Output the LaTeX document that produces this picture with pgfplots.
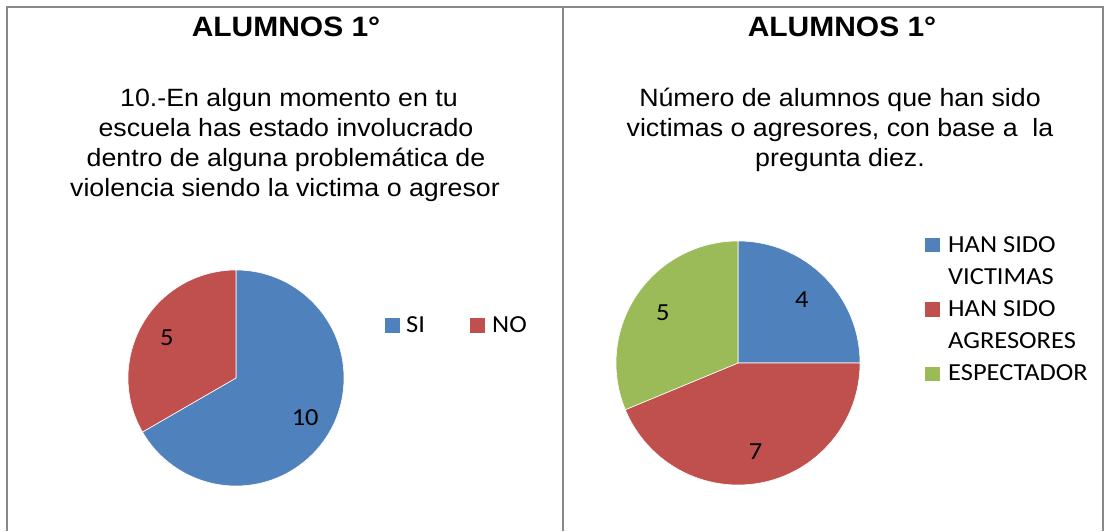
\documentclass[border=0pt]{standalone}
\usepackage{fontspec}
\setmainfont{Liberation Sans}
\newfontfamily\calibri{Carlito}
\usepackage{pgfplots}
\usepackage{pgfplotstable}
\pgfplotsset{compat=1.18}

\definecolor{pieblue}{HTML}{4F81BD}
\definecolor{piered}{HTML}{C0504D}
\definecolor{piegreen}{HTML}{9BBB59}
\definecolor{frame}{HTML}{888888}

% pregunta 10: SI / NO
\pgfplotstableread{
name value color
SI 10 pieblue
NO 5 piered
}\tabA
% victimas / agresores / espectador
\pgfplotstableread{
name value color
VICTIMAS 4 pieblue
AGRESORES 7 piered
ESPECTADOR 5 piegreen
}\tabB

\newcommand\lblfont{\calibri\fontsize{24.5}{28}\selectfont}
\newcommand\bodyfont{\fontsize{25}{30}\selectfont}
\newcommand\titlefont{\bfseries\fontsize{28}{33}\selectfont}
\tikzset{lbl/.style={font=\lblfont, inner sep=0, xscale=1.08},
         body/.style={font=\bodyfont, inner sep=0, anchor=base, xscale=1.07},
         ttl/.style={font=\titlefont, inner sep=0, anchor=base, xscale=1.07}}

% #1 table, #2 cx, #3 cy (pixels from top), #4 radius (pt)
\newcommand\pie[4]{%
  \pgfplotstablegetrowsof{#1}\pgfmathtruncatemacro\lastrow{\pgfplotsretval-1}%
  \def\total{0}%
  \pgfplotsforeachungrouped \i in {0,...,\lastrow}{%
    \pgfplotstablegetelem{\i}{value}\of{#1}%
    \pgfmathsetmacro\total{\total+\pgfplotsretval}}%
  \def\angA{90}%
  \pgfmathsetmacro\cy{531-#3}%
  \pgfmathsetmacro\dist{0.74*#4}%
  \pgfplotsforeachungrouped \i in {0,...,\lastrow}{%
    \pgfplotstablegetelem{\i}{value}\of{#1}\let\val\pgfplotsretval
    \pgfplotstablegetelem{\i}{color}\of{#1}\let\col\pgfplotsretval
    \pgfmathsetmacro\angB{\angA-360*\val/\total}%
    \pgfmathsetmacro\angM{(\angA+\angB)/2}%
    \edef\temp{%
      \noexpand\fill[\col, draw=white, line width=0.6pt] (axis cs:#2,\cy) -- ++(\angA:#4pt)
        arc[start angle=\angA, end angle=\angB, radius=#4pt] -- cycle;
      \noexpand\path (axis cs:#2,\cy) ++(\angM:\dist pt) node[lbl] {\val};}%
    \temp
    \let\angA\angB}%
}

\begin{document}
\begin{tikzpicture}
\begin{axis}[
  hide axis, clip=false,
  x=1pt, y=1pt,
  xmin=0, xmax=1105, ymin=0, ymax=531,
]
  \path (axis cs:0,0) rectangle (axis cs:1105,531);
  % frames
  \draw[frame, line width=1.5pt] (axis cs:7,0) -- (axis cs:7,524) -- (axis cs:1103,524) -- (axis cs:1103,0);
  \draw[frame, line width=1.5pt] (axis cs:563,0) -- (axis cs:563,524);

  % left chart
  \node[ttl] at (axis cs:286,494) {ALUMNOS 1°};
  \node[body] at (axis cs:289,424) {10.-En algun momento en tu};
  \node[body] at (axis cs:286,394) {escuela has estado involucrado};
  \node[body] at (axis cs:286,364) {dentro de alguna problemática de};
  \node[body] at (axis cs:285,334) {violencia siendo la victima o agresor};
  \pie{\tabA}{236}{378}{108}
  \fill[pieblue] (axis cs:385,198) rectangle (axis cs:400,213);
  \node[lbl, anchor=base west] at (axis cs:406,198) {SI};
  \fill[piered] (axis cs:470,198) rectangle (axis cs:485,213);
  \node[lbl, anchor=base west] at (axis cs:492,198) {NO};

  % right chart
  \node[ttl] at (axis cs:842,494) {ALUMNOS 1°};
  \node[body] at (axis cs:840,424) {Número de alumnos que han sido};
  \node[body] at (axis cs:840,394) {victimas o agresores, con base a\ \ la};
  \node[body] at (axis cs:840,364) {pregunta diez.};
  \pie{\tabB}{738}{363}{122}
  \fill[pieblue] (axis cs:925,279) rectangle (axis cs:940,293);
  \node[lbl, anchor=base west] at (axis cs:948,278) {HAN SIDO};
  \node[lbl, anchor=base west] at (axis cs:948,246) {VICTIMAS};
  \fill[piered] (axis cs:925,214) rectangle (axis cs:940,229);
  \node[lbl, anchor=base west] at (axis cs:948,214) {HAN SIDO};
  \node[lbl, anchor=base west] at (axis cs:948,182) {AGRESORES};
  \fill[piegreen] (axis cs:925,150) rectangle (axis cs:940,164);
  \node[lbl, anchor=base west] at (axis cs:948,150) {ESPECTADOR};
\end{axis}
\end{tikzpicture}
\end{document}
